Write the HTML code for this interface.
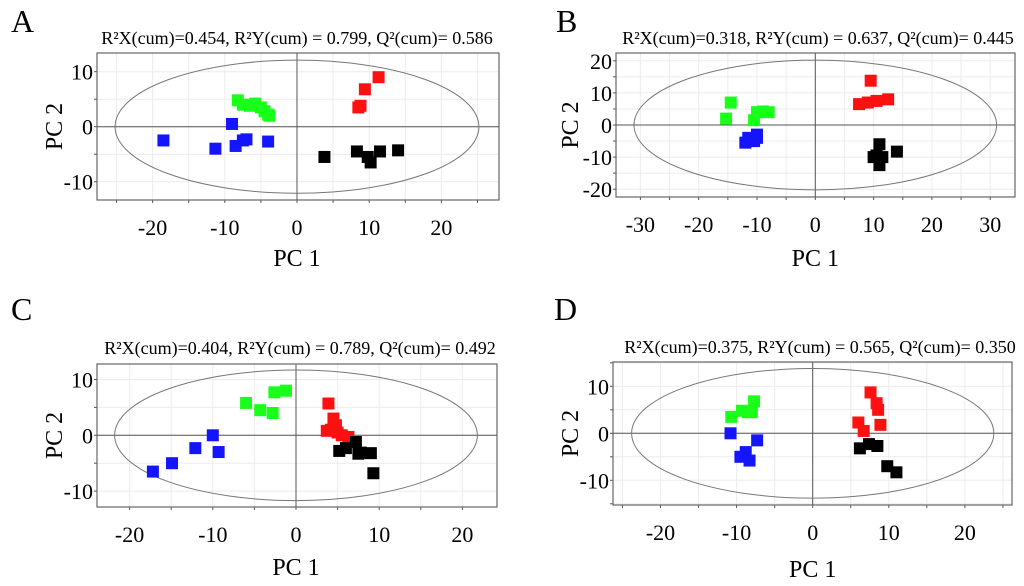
<!DOCTYPE html>
<html><head><meta charset="utf-8"><style>
body{margin:0;background:#fff;}
svg{display:block;font-family:"Liberation Serif",serif;}
</style></head><body>
<svg id="fig" width="1024" height="586" viewBox="0 0 1024 586"></svg>
<script>
// Panel A
const aBlue=[[-18.5,-2.5],[-11.3,-4],[-9,0.5],[-8.5,-3.5],[-7.5,-2.5],[-7,-2.3],[-4,-2.7]];
const aGreen=[[-8.2,4.8],[-7.5,4],[-6.5,3.8],[-5.8,4.2],[-5,3.5],[-4.5,2.8],[-4,2.2],[-3.8,2]];
const aRed=[[11.3,9],[9.4,6.8],[8.5,3.5],[8.8,3.8]];
const aBlack=[[3.8,-5.5],[8.3,-4.5],[9.8,-5.5],[10.2,-6.5],[11.5,-4.5],[14,-4.3]];
const aXTicks=[-20,-10,0,10,20];
const aYTicks=[10,0,-10];
// Panel B
const bBlue=[[-11.5,-4],[-11,-5],[-10,-3],[-10.5,-5],[-12,-5.5],[-10,-4]];
const bGreen=[[-14.5,7],[-15.3,2],[-10.5,1.5],[-10,4],[-8,4],[-9,4.2]];
const bRed=[[9.5,13.8],[7.5,6.5],[9,7],[10.5,7.5],[12.5,8]];
const bBlack=[[11,-6],[14,-8.3],[10,-10],[11.5,-10],[11,-12.5],[10.5,-9.5]];
const bXTicks=[-30,-20,-10,0,10,20,30];
const bYTicks=[20,10,0,-10,-20];
// Panel C
const cBlue=[[-17.2,-6.5],[-14.9,-5],[-12.1,-2.3],[-10,0],[-9.3,-3]];
const cGreen=[[-6,5.8],[-4.3,4.5],[-2.8,4],[-2.6,7.7],[-1.2,8]];
const cRed=[[3.9,5.7],[4.5,3],[4.8,1.8],[3.7,0.8],[5,0.5],[5.5,0],[6.3,-0.3],[4.2,1]];
const cBlack=[[5.2,-2.8],[6,-2.3],[7.2,-1.2],[7.5,-3.3],[9,-3.2],[9.3,-6.8],[7.8,-3.1]];
const cXTicks=[-20,-10,0,10,20];
const cYTicks=[10,0,-10];
// Panel D
const dBlue=[[-10.8,0],[-7.3,-1.5],[-9.5,-5],[-8.8,-4],[-8.3,-5.8]];
const dGreen=[[-10.7,3.5],[-9.3,4.8],[-8,4.5],[-7.7,6.8],[-8.5,4.5]];
const dRed=[[7.6,8.7],[8.4,6.4],[8.6,5],[6,2.3],[6.7,0.5],[8.9,1.8]];
const dBlack=[[6.2,-3.2],[7.4,-2.3],[8.5,-2.7],[9.8,-7],[11,-8.3]];
const dXTicks=[-20,-10,0,10,20];
const dYTicks=[10,0,-10];

const titles=["R²X(cum)=0.454, R²Y(cum) = 0.799, Q²(cum)= 0.586","R²X(cum)=0.318, R²Y(cum) = 0.637, Q²(cum)= 0.445","R²X(cum)=0.404, R²Y(cum) = 0.789, Q²(cum)= 0.492","R²X(cum)=0.375, R²Y(cum) = 0.565, Q²(cum)= 0.350"];
const letters=["A","B","C","D"];

const NS="http://www.w3.org/2000/svg";
const svg=document.getElementById('fig');
function mk(tag,attrs,parent){const e=document.createElementNS(NS,tag);for(const k in attrs)e.setAttribute(k,attrs[k]);(parent||svg).appendChild(e);return e;}

const layouts=[
 {box:[97,53,499,200],x0:297,xu:7.22,y0:126.7,yu:5.5,erx:25.2,ery:12.1,xmin:-27.5,xmax:28.2,ymin:-13.3,ymax:13.4,lx:11,ly:32,ty:44,tx:297,xl:258,ylx:62,series:[aBlue,aGreen,aRed,aBlack],xt:aXTicks,yt:aYTicks},
 {box:[616,53,1015,197],x0:815.3,xu:5.83,y0:125,yu:3.21,erx:31.1,ery:20.2,xmin:-34.2,xmax:34.2,ymin:-22.5,ymax:22.4,lx:556,ly:32,ty:44,tx:818,xl:258,ylx:578,series:[bBlue,bGreen,bRed,bBlack],xt:bXTicks,yt:bYTicks},
 {box:[97,364,497,507],x0:296,xu:8.32,y0:435.3,yu:5.58,erx:21.8,ery:11.7,xmin:-23.9,xmax:24.2,ymin:-12.8,ymax:12.8,lx:11,ly:320,ty:354,tx:300,xl:567,ylx:62,series:[cBlue,cGreen,cRed,cBlack],xt:cXTicks,yt:cYTicks},
 {box:[613,362,1012,505],x0:812.7,xu:7.61,y0:433.3,yu:4.7,erx:23.8,ery:13.8,xmin:-26.2,xmax:26.2,ymin:-15.2,ymax:15.1,lx:554,ly:320,ty:353,tx:820,xl:569,ylx:578,series:[dBlue,dGreen,dRed,dBlack],xt:dXTicks,yt:dYTicks}
];
const colors=["#1414ff","#19ff19","#ff1010","#000000"];
const groupNames=["blue","green","red","black"];

layouts.forEach((L,i)=>{
 const g=mk('g',{});
 
 
 const X=v=>L.x0+v*L.xu, Y=v=>L.y0-v*L.yu;
 const [bx1,by1,bx2,by2]=L.box;
 for(let v=Math.ceil(L.xmin/5)*5;v<=L.xmax;v+=5){const l=mk('line',{x1:X(v),x2:X(v),y1:by1,y2:by2,stroke:'#ececec','stroke-width':1},g);
  const t=mk('line',{x1:X(v),x2:X(v),y1:by2,y2:by2+3,stroke:'#555','stroke-width':1},g);}
 for(let v=Math.ceil(L.ymin/5)*5;v<=L.ymax;v+=5){const l=mk('line',{x1:bx1,x2:bx2,y1:Y(v),y2:Y(v),stroke:'#ececec','stroke-width':1},g);
  const t=mk('line',{x1:bx1-3,x2:bx1,y1:Y(v),y2:Y(v),stroke:'#555','stroke-width':1},g);}
 const box=mk('rect',{x:bx1,y:by1,width:bx2-bx1,height:by2-by1,fill:'none',stroke:'#666','stroke-width':1.2},g);
 
 const ax=mk('line',{x1:X(0),x2:X(0),y1:by1,y2:by2,stroke:'#555','stroke-width':1},g);
 const ay=mk('line',{x1:bx1,x2:bx2,y1:Y(0),y2:Y(0),stroke:'#555','stroke-width':1},g);
 const el=mk('ellipse',{cx:X(0),cy:Y(0),rx:L.erx*L.xu,ry:L.ery*L.yu,fill:'none',stroke:'#777','stroke-width':1},g);
 
 L.series.forEach((s,si)=>{s.forEach(p=>{const r=mk('rect',{x:X(p[0])-6,y:Y(p[1])-6,width:12,height:12,fill:colors[si]},g);
  });});
 L.xt.forEach(v=>{const t=mk('text',{x:X(v),y:by2+35,'text-anchor':'middle','font-size':22,fill:'#000'},g);t.textContent=(v<0?'-'+(-v):v);});
 L.yt.forEach(v=>{const t=mk('text',{x:bx1-4,y:Y(v)+8,'text-anchor':'end','font-size':22,fill:'#000'},g);t.textContent=(v<0?'-'+(-v):v);});
 const xl=mk('text',{x:X(0),y:L.xl+8,'text-anchor':'middle','font-size':24},g);xl.textContent='PC 1';
 const yc=(by1+by2)/2;
 const yl=mk('text',{x:0,y:0,'text-anchor':'middle','font-size':24,transform:`translate(${L.ylx},${yc}) rotate(-90)`},g);yl.textContent='PC 2';
 const ti=mk('text',{x:L.tx,y:L.ty,'text-anchor':'middle','font-size':18},g);ti.textContent=titles[i];
 const le=mk('text',{x:L.lx,y:L.ly,'font-size':32},g);le.textContent=letters[i];
});
</script>
</body></html>
